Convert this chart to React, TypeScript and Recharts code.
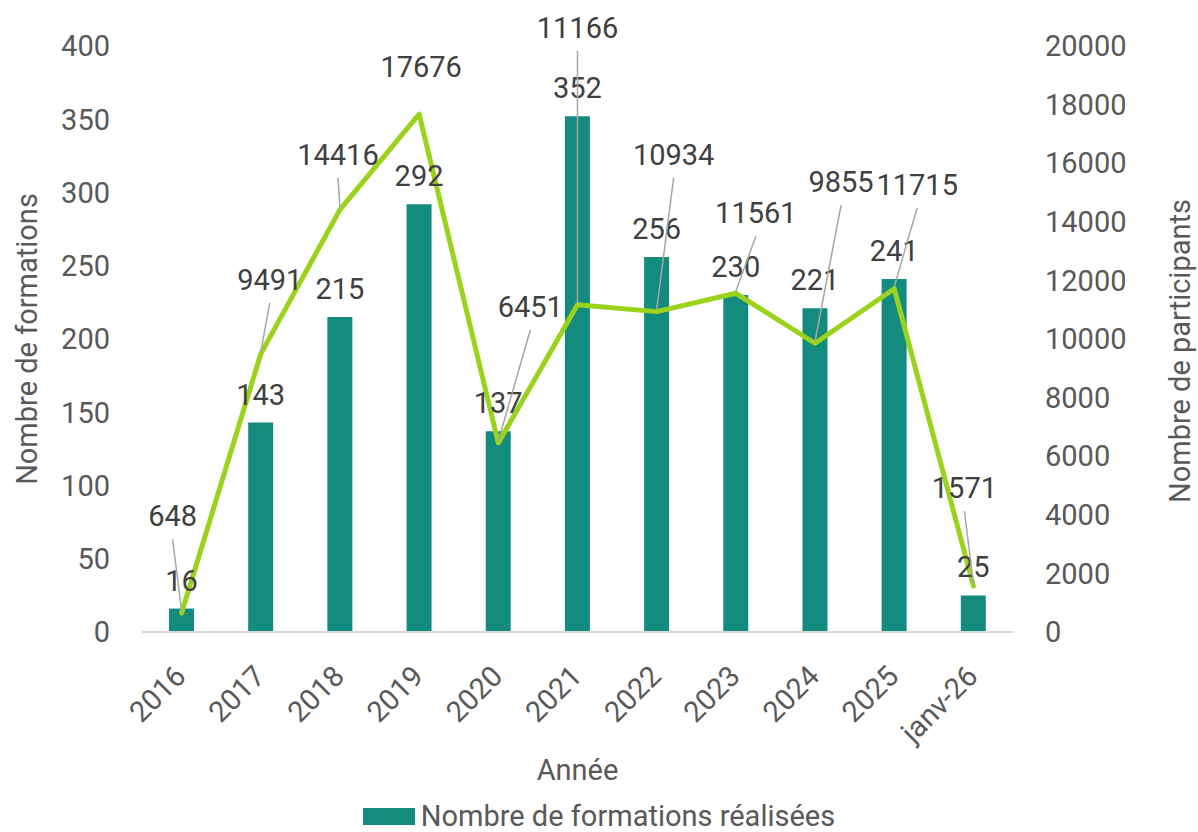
import { ComposedChart, Bar, Line, XAxis, YAxis, Legend, LabelList } from 'recharts';

// values
const categories = ['2016', '2017', '2018', '2019', '2020', '2021', '2022', '2023', '2024', '2025', 'janv-26'];
const formations = [16, 143, 215, 292, 137, 352, 256, 230, 221, 241, 25];
const participants = [648, 9491, 14416, 17676, 6451, 11166, 10934, 11561, 9855, 11715, 1571];
const leftTicks = [0, 50, 100, 150, 200, 250, 300, 350, 400];
const rightTicks = [0, 2000, 4000, 6000, 8000, 10000, 12000, 14000, 16000, 18000, 20000];

// hand-placed label offsets for the participants line (dx, dy from the point)
const lineLabelOffsets: [number, number][] = [
    [-9, -97], [9, -74], [-2, -55], [2, -47], [32, -136], [0, -277],
    [17, -157], [20, -80], [26, -161], [23, -104], [-9, -98],
];

const data = categories.map((cat, i) => ({
    cat,
    formations: formations[i],
    participants: participants[i],
}));

const BAR = '#138B7F';
const LINE = '#9BD21B';
const AXIS_TEXT = '#595959';
const LABEL_TEXT = '#404040';
const FS = 29;

function XTick({ x, y, payload }: any) {
    const tx = x + 6;
    const ty = y + 38;
    return (
        <text x={tx} y={ty} transform={`rotate(-45 ${tx} ${ty})`} textAnchor="end" fill={AXIS_TEXT} fontSize={FS}>
            {payload.value}
        </text>
    );
}

function LineLabel(props: any) {
    const { x, y, index, value } = props;
    const [dx, dy] = lineLabelOffsets[index] || [0, -40];
    const cx = x + dx;
    const cy = y + dy;
    const showLeader = Math.abs(dy) > 50;
    return (
        <g>
            {showLeader && (
                <line x1={x} y1={y - 2} x2={cx} y2={cy + 23} stroke="#A6A6A6" strokeWidth={1.5} />
            )}
            <text x={cx} y={cy} textAnchor="middle" dominantBaseline="central" fill={LABEL_TEXT} fontSize={FS}>
                {value}
            </text>
        </g>
    );
}

function LegendContent() {
    return (
        <div style={{ display: 'flex', justifyContent: 'center', alignItems: 'center', height: 32 }}>
            <span style={{ display: 'inline-block', width: 52, height: 17, background: BAR, marginRight: 6 }} />
            <span style={{ fontSize: FS, color: AXIS_TEXT, lineHeight: '32px' }}>Nombre de formations réalisées</span>
        </div>
    );
}

export default function App() {
    return (
        <div style={{ position: 'absolute', left: 0, top: 0, fontFamily: 'Roboto, sans-serif' }}>
            <ComposedChart width={1198} height={832} data={data} margin={{ top: 46, right: 0, bottom: 0, left: 0 }}>
                <XAxis
                    dataKey="cat"
                    height={168}
                    interval={0}
                    axisLine={{ stroke: '#D9D9D9', strokeWidth: 2 }}
                    tickLine={false}
                    tick={<XTick />}
                    label={({ viewBox }: any) => (
                        <text
                            x={viewBox.x + viewBox.width / 2}
                            y={viewBox.y + 138}
                            textAnchor="middle"
                            dominantBaseline="central"
                            fill={AXIS_TEXT}
                            fontSize={FS}
                        >
                            Année
                        </text>
                    )}
                />
                <YAxis
                    yAxisId="left"
                    width={142}
                    domain={[0, 400]}
                    ticks={leftTicks}
                    axisLine={false}
                    tickLine={false}
                    tickMargin={26}
                    tick={{ fill: AXIS_TEXT, fontSize: FS }}
                    label={({ viewBox }: any) => {
                        const lx = viewBox.x + 27;
                        const ly = viewBox.y + viewBox.height / 2;
                        return (
                            <text x={lx} y={ly} transform={`rotate(-90 ${lx} ${ly})`} textAnchor="middle" dominantBaseline="central" fill={AXIS_TEXT} fontSize={FS}>
                                Nombre de formations
                            </text>
                        );
                    }}
                />
                <YAxis
                    yAxisId="right"
                    orientation="right"
                    width={185}
                    domain={[0, 20000]}
                    ticks={rightTicks}
                    axisLine={false}
                    tickLine={false}
                    tickMargin={26}
                    tick={{ fill: AXIS_TEXT, fontSize: FS }}
                    label={({ viewBox }: any) => {
                        const lx = viewBox.x + 167;
                        const ly = viewBox.y + viewBox.height / 2 + 12;
                        return (
                            <text x={lx} y={ly} transform={`rotate(-90 ${lx} ${ly})`} textAnchor="middle" dominantBaseline="central" fill={AXIS_TEXT} fontSize={FS}>
                                Nombre de participants
                            </text>
                        );
                    }}
                />
                <Legend verticalAlign="bottom" content={<LegendContent />} />
                <Bar yAxisId="left" dataKey="formations" name="Nombre de formations réalisées" fill={BAR} barSize={25} isAnimationActive={false}>
                    <LabelList dataKey="formations" position="top" offset={18} fill={LABEL_TEXT} fontSize={FS} />
                </Bar>
                <Line
                    yAxisId="right"
                    dataKey="participants"
                    stroke={LINE}
                    strokeWidth={5}
                    strokeLinecap="round"
                    strokeLinejoin="round"
                    dot={false}
                    legendType="none"
                    isAnimationActive={false}
                    label={<LineLabel />}
                />
            </ComposedChart>
        </div>
    );
}
